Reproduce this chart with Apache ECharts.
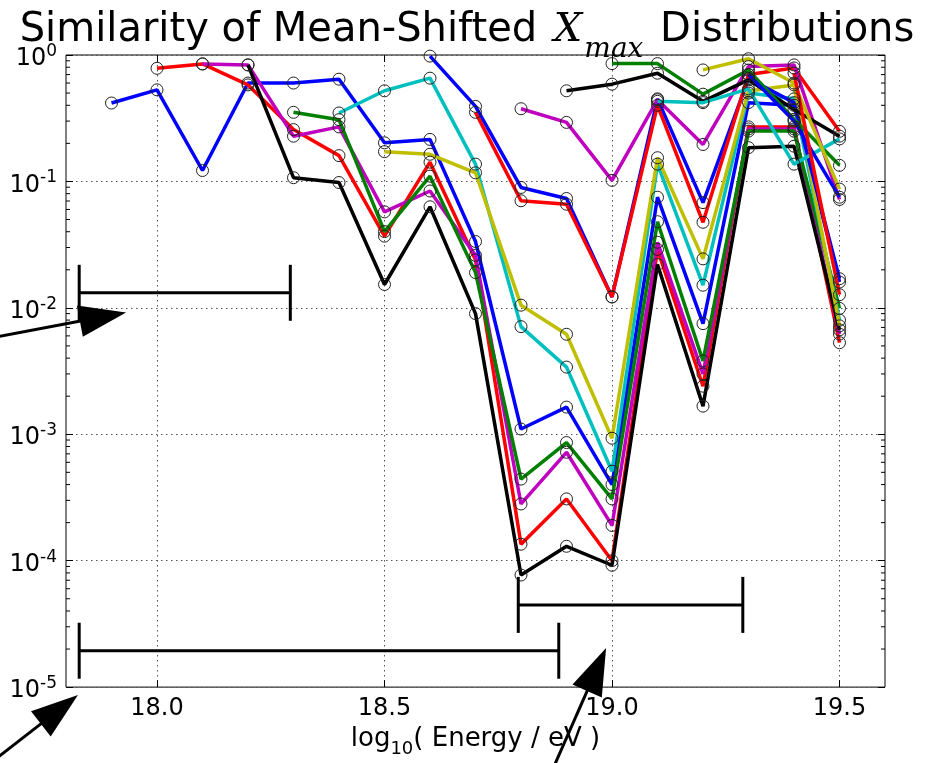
<!DOCTYPE html>
<html><head><meta charset="utf-8">
<script src="https://cdn.jsdelivr.net/npm/echarts@6/dist/echarts.min.js"></script>
<style>html,body{margin:0;padding:0;background:#fff}#c{width:934px;height:763px}</style>
</head><body><div id="c"></div>
<script>
// ---- data ----
const energies = [17.9, 18.0, 18.1, 18.2, 18.3, 18.4, 18.5, 18.6, 18.7, 18.8, 18.9, 19.0, 19.1, 19.2, 19.3, 19.4, 19.5];
const s01 = [0.417, 0.53, 0.122, 0.60, 0.60, 0.644, 0.202, 0.215, 0.0335, 1.1e-3, 1.64e-3, 4.0e-4, 0.075, 0.0075, 0.42, 0.40, 0.016];
const s02 = [null, 0.785, 0.85, 0.58, 0.257, 0.16, 0.0369, 0.142, 0.024, 1.35e-4, 3.08e-4, 1.0e-4, 0.029, 0.0024, 0.27, 0.27, 0.0053];
const s03 = [null, null, 0.85, 0.835, 0.228, 0.27, 0.0575, 0.084, 0.026, 2.81e-4, 7.2e-4, 1.9e-4, 0.033, 0.0030, 0.26, 0.26, 0.0062];
const s04 = [null, null, null, 0.835, 0.107, 0.098, 0.0153, 0.063, 0.009, 7.7e-5, 1.3e-4, 9.2e-5, 0.022, 0.00167, 0.185, 0.19, 0.0067];
const s05 = [null, null, null, null, 0.352, 0.308, 0.0401, 0.11, 0.019, 4.42e-4, 8.6e-4, 3.08e-4, 0.048, 0.0038, 0.25, 0.25, 0.0099];
const s06 = [null, null, null, null, null, 0.348, 0.521, 0.656, 0.137, 0.0071, 0.0034, 5.1e-4, 0.137, 0.0151, 0.50, 0.45, 0.008];
const s07 = [null, null, null, null, null, null, 0.172, 0.164, 0.117, 0.0105, 0.00618, 9.3e-4, 0.154, 0.0244, 0.52, 0.58, 0.0072];
const s08 = [null, null, null, null, null, null, null, 0.98, 0.392, 0.0896, 0.0733, 0.0122, 0.45, 0.068, 0.65, 0.42, 0.017];
const s09 = [null, null, null, null, null, null, null, null, 0.352, 0.0703, 0.066, 0.0122, 0.40, 0.0475, 0.70, 0.79, 0.249];
const s10 = [null, null, null, null, null, null, null, null, null, 0.376, 0.293, 0.102, 0.443, 0.196, 0.81, 0.835, 0.072];
const s11 = [null, null, null, null, null, null, null, null, null, null, 0.521, 0.588, 0.718, 0.43, 0.636, 0.37, 0.228];
const s12 = [null, null, null, null, null, null, null, null, null, null, null, 0.855, 0.855, 0.49, 0.76, 0.31, 0.134];
const s13 = [null, null, null, null, null, null, null, null, null, null, null, null, 0.43, 0.42, 0.54, 0.137, 0.217];
const s14 = [null, null, null, null, null, null, null, null, null, null, null, null, null, 0.762, 0.935, 0.6, 0.087];
const s15 = [null, null, null, null, null, null, null, null, null, null, null, null, null, null, 0.70, 0.30, 0.075];
const s16 = [null, null, null, null, null, null, null, null, null, null, null, null, null, null, null, 0.72, 0.0127];
const seriesValues = [s01, s02, s03, s04, s05, s06, s07, s08, s09, s10, s11, s12, s13, s14, s15, s16];
const seriesColors = ['#0000ff', '#ff0000', '#bf00bf', '#000000', '#008000', '#00bfbf', '#bfbf00',
                      '#0000ff', '#ff0000', '#bf00bf', '#000000', '#008000', '#00bfbf', '#bfbf00',
                      '#0000ff', '#ff0000'];
const xRange = [17.8, 19.6];
const yRange = [1e-5, 1];
const xTickValues = [18.0, 18.5, 19.0, 19.5];
const xTickLabels = ['18.0', '18.5', '19.0', '19.5'];
const yTickValues = [1, 0.1, 0.01, 0.001, 0.0001, 0.00001];
const yTickExponents = ['0', '-1', '-2', '-3', '-4', '-5'];
// annotation segments: [xStart, xEnd, y]
const errorBars = [[17.829, 18.293, 0.01315], [18.794, 19.2875, 4.47e-5], [17.829, 18.883, 1.94e-5]];
// arrows: [tailX, tailY, tipX, tipY]
const arrows = [[17.62, 5.65e-3, 17.932, 9.2e-3], [17.611, 2.16e-6, 17.8263, 8.65e-6], [18.8607, 1.89e-6, 18.987, 2.04e-5]];
const titleText = '{a|Similarity of Mean-Shifted }{x|X}{s|max}{a| Distributions}';
const xAxisName = '{a|log}{sub|10}{a|( Energy / eV )}';

// minor tick positions for log axis (2..9 per decade)
const minorTickValues = [];
for (let e = -5; e < 0; e++) for (let m = 2; m <= 9; m++) minorTickValues.push(m * Math.pow(10, e));

const FONT = 'DejaVu Sans';
const chart = echarts.init(document.getElementById('c'), null, {renderer: 'canvas'});

const lineSeries = seriesValues.map((vals, k) => ({
  type: 'line',
  data: energies.map((x, i) => vals[i] == null ? null : [x, vals[i]]).filter(d => d),
  symbol: 'circle',
  symbolSize: 12,
  lineStyle: {color: seriesColors[k], width: 3.5},
  itemStyle: {color: 'rgba(0,0,0,0)', borderColor: '#222', borderWidth: 1},
  emphasis: {disabled: true},
  z: 3
}));

const option = {
  animation: false,
  backgroundColor: '#fff',
  title: {
    text: titleText, left: 'center', top: 11, padding: 0,
    textStyle: {
      fontWeight: 'normal',
      rich: {
        a: {fontFamily: FONT, fontWeight: 'normal', fontSize: 40, color: '#000', lineHeight: 44, verticalAlign: 'top'},
        x: {fontFamily: 'DejaVu Serif', fontWeight: 'normal', fontStyle: 'italic', fontSize: 40, color: '#000', lineHeight: 44, verticalAlign: 'top', padding: [0, 2, 0, 4]},
        s: {fontFamily: 'DejaVu Serif', fontWeight: 'normal', fontStyle: 'italic', fontSize: 28, color: '#000', lineHeight: 28, verticalAlign: 'top', padding: [25, 4, 0, 0]}
      }
    }
  },
  grid: {left: 66, top: 55, width: 819, height: 636, show: true, borderColor: '#000', borderWidth: 1, backgroundColor: 'transparent', containLabel: false},
  xAxis: [{
    type: 'value', min: xRange[0], max: xRange[1], position: 'bottom',
    axisLine: {show: false},
    axisTick: {show: true, inside: true, length: 7, customValues: xTickValues, lineStyle: {color: '#000', width: 1}},
    axisLabel: {customValues: xTickValues, formatter: v => xTickLabels[xTickValues.indexOf(v)], fontFamily: FONT, fontSize: 24, color: '#000', margin: 10},
    splitLine: {show: true, lineStyle: {color: '#555', width: 1, type: [1.5, 3.5]}},
    name: xAxisName, nameLocation: 'middle', nameGap: 36,
    nameTextStyle: {
      rich: {
        a: {fontFamily: FONT, fontSize: 26, color: '#000', lineHeight: 28, verticalAlign: 'top'},
        sub: {fontFamily: FONT, fontSize: 18, color: '#000', lineHeight: 18, verticalAlign: 'top', padding: [14, 0, 0, 0]}
      }
    }
  }, {
    type: 'value', min: xRange[0], max: xRange[1], position: 'top',
    axisLine: {show: false},
    axisTick: {show: true, inside: true, length: 7, customValues: xTickValues, lineStyle: {color: '#000', width: 1}},
    axisLabel: {show: false}, splitLine: {show: false}
  }],
  yAxis: [{
    type: 'log', logBase: 10, min: yRange[0], max: yRange[1], position: 'left',
    axisLine: {show: false},
    axisTick: {show: true, inside: true, length: 7, lineStyle: {color: '#000', width: 1}},
    axisLabel: {
      fontFamily: FONT, color: '#000', margin: 9,
      formatter: v => {
        let idx = 0, best = Infinity;
        yTickValues.forEach((t, i) => { const d = Math.abs(Math.log10(t) - Math.log10(v)); if (d < best) { best = d; idx = i; } });
        return '{b|10}{s|' + yTickExponents[idx] + '}';
      },
      rich: {
        b: {fontFamily: FONT, fontSize: 24, color: '#000', lineHeight: 24, verticalAlign: 'top', padding: [4, 0, 0, 0]},
        s: {fontFamily: FONT, fontSize: 17, color: '#000', lineHeight: 17, verticalAlign: 'top'}
      }
    },
    splitLine: {show: true, lineStyle: {color: '#555', width: 1, type: [1.5, 3.5]}}
  }, {
    type: 'log', logBase: 10, min: yRange[0], max: yRange[1], position: 'right',
    axisLine: {show: false},
    axisTick: {show: true, inside: true, length: 7, lineStyle: {color: '#000', width: 1}},
    axisLabel: {show: false}, splitLine: {show: false}
  }],
  series: lineSeries.concat([
    {
      type: 'custom', name: 'minorTicks', coordinateSystem: 'cartesian2d', silent: true, z: 2,
      data: minorTickValues.map(v => [xRange[0], v]),
      encode: {x: 0, y: 1},
      renderItem: (params, api) => {
        const l = api.coord([xRange[0], api.value(1)]);
        const r = api.coord([xRange[1], api.value(1)]);
        const st = {stroke: '#000', lineWidth: 1};
        return {type: 'group', children: [
          {type: 'line', shape: {x1: l[0], y1: l[1], x2: l[0] + 4, y2: l[1]}, style: st},
          {type: 'line', shape: {x1: r[0], y1: r[1], x2: r[0] - 4, y2: r[1]}, style: st}
        ]};
      }
    },
    {
      type: 'custom', name: 'bars', coordinateSystem: 'cartesian2d', silent: true, z: 10, clip: false,
      data: errorBars, encode: {x: [0, 1], y: 2},
      renderItem: (params, api) => {
        const a = api.coord([api.value(0), api.value(2)]);
        const b = api.coord([api.value(1), api.value(2)]);
        const st = {stroke: '#000', lineWidth: 3};
        const h = 28;
        return {type: 'group', children: [
          {type: 'line', shape: {x1: a[0], y1: a[1], x2: b[0], y2: b[1]}, style: st},
          {type: 'line', shape: {x1: a[0], y1: a[1] - h, x2: a[0], y2: a[1] + h}, style: st},
          {type: 'line', shape: {x1: b[0], y1: b[1] - h, x2: b[0], y2: b[1] + h}, style: st}
        ]};
      }
    },
    {
      type: 'custom', name: 'arrows', coordinateSystem: 'cartesian2d', silent: true, z: 10, clip: false,
      data: arrows, encode: {x: [0, 2], y: [1, 3]},
      renderItem: (params, api) => {
        const t = api.coord([api.value(0), api.value(1)]);
        const p = api.coord([api.value(2), api.value(3)]);
        const dx = p[0] - t[0], dy = p[1] - t[1];
        const len = Math.sqrt(dx * dx + dy * dy);
        const ux = dx / len, uy = dy / len;
        const headL = 47, headW = 16;
        const bx = p[0] - ux * headL, by = p[1] - uy * headL;
        const nx = -uy, ny = ux;
        return {type: 'group', children: [
          {type: 'line', shape: {x1: t[0], y1: t[1], x2: bx + ux * 2, y2: by + uy * 2}, style: {stroke: '#000', lineWidth: 3}},
          {type: 'polygon', shape: {points: [[p[0], p[1]], [bx + nx * headW, by + ny * headW], [bx - nx * headW, by - ny * headW]]}, style: {fill: '#000'}}
        ]};
      }
    }
  ])
};
chart.setOption(option);
</script>
</body></html>
